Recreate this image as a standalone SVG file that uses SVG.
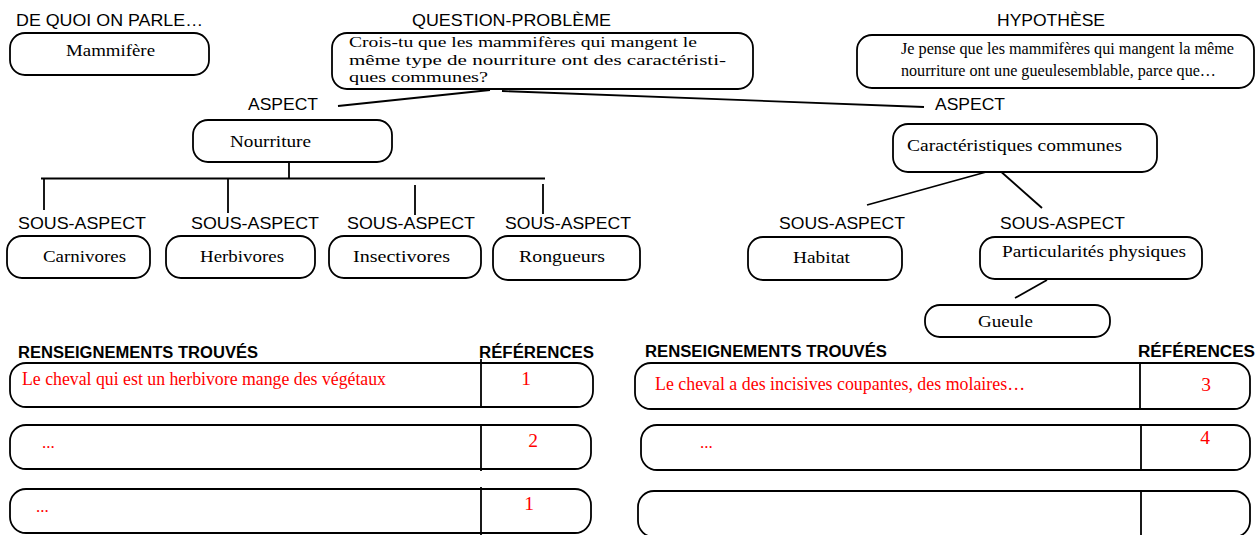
<svg xmlns="http://www.w3.org/2000/svg" width="1260" height="535" viewBox="0 0 1260 535">
<style>
.box{fill:#fff;stroke:#000;stroke-width:1.8}
.ln{stroke:#000;stroke-width:1.8;fill:none}
.lbl{font-family:"Liberation Sans",Arial,sans-serif;font-size:16.5px;fill:#000}
.hdr{font-family:"Liberation Sans",Arial,sans-serif;font-size:16px;font-weight:bold;fill:#000}
.sv{font-family:"Liberation Serif","Times New Roman",serif;font-size:17.5px;fill:#000}
.q{font-family:"Liberation Serif","Times New Roman",serif;font-size:15px;fill:#000}
.red{font-family:"Liberation Serif","Times New Roman",serif;font-size:19.5px;fill:#f00}
</style>
<rect width="1260" height="535" fill="#fff"/>

<g id="labels">
<text class="lbl" x="16" y="26" textLength="187" lengthAdjust="spacingAndGlyphs">DE QUOI ON PARLE…</text>
<text class="lbl" x="412" y="26" textLength="199" lengthAdjust="spacingAndGlyphs">QUESTION-PROBLÈME</text>
<text class="lbl" x="997" y="26" textLength="108" lengthAdjust="spacingAndGlyphs">HYPOTHÈSE</text>
<text class="lbl" x="248" y="110" textLength="70" lengthAdjust="spacingAndGlyphs">ASPECT</text>
<text class="lbl" x="935" y="110" textLength="70" lengthAdjust="spacingAndGlyphs">ASPECT</text>
<text class="lbl" x="18" y="229" textLength="128" lengthAdjust="spacingAndGlyphs">SOUS-ASPECT</text>
<text class="lbl" x="191" y="229" textLength="128" lengthAdjust="spacingAndGlyphs">SOUS-ASPECT</text>
<text class="lbl" x="347" y="229" textLength="128" lengthAdjust="spacingAndGlyphs">SOUS-ASPECT</text>
<text class="lbl" x="505" y="229" textLength="126" lengthAdjust="spacingAndGlyphs">SOUS-ASPECT</text>
<text class="lbl" x="779" y="229" textLength="126" lengthAdjust="spacingAndGlyphs">SOUS-ASPECT</text>
<text class="lbl" x="1000" y="229" textLength="125" lengthAdjust="spacingAndGlyphs">SOUS-ASPECT</text>
<text class="hdr" x="18" y="358" textLength="240" lengthAdjust="spacingAndGlyphs">RENSEIGNEMENTS TROUVÉS</text>
<text class="hdr" x="479" y="358" textLength="115" lengthAdjust="spacingAndGlyphs">RÉFÉRENCES</text>
<text class="hdr" x="645" y="357" textLength="242" lengthAdjust="spacingAndGlyphs">RENSEIGNEMENTS TROUVÉS</text>
<text class="hdr" x="1138" y="357" textLength="117" lengthAdjust="spacingAndGlyphs">RÉFÉRENCES</text>
</g>

<g id="connectors">
<line class="ln" x1="338" y1="106" x2="490" y2="90"/>
<line class="ln" x1="502" y1="91" x2="924" y2="107"/>
<line class="ln" x1="289" y1="162" x2="289" y2="178"/>
<line class="ln" x1="41" y1="178.5" x2="545" y2="178.5" style="stroke-width:2.2"/>
<line class="ln" x1="44" y1="179" x2="44" y2="210"/>
<line class="ln" x1="228" y1="179" x2="228" y2="213"/>
<line class="ln" x1="415" y1="185" x2="415" y2="215"/>
<line class="ln" x1="543" y1="184" x2="543" y2="214"/>
<line class="ln" x1="997" y1="169" x2="867" y2="205"/>
<line class="ln" x1="998" y1="169" x2="1042" y2="208"/>
<line class="ln" x1="1047" y1="280" x2="1015" y2="298"/>
</g>

<g id="mammifere">
<rect class="box" x="10" y="33" width="199" height="42" rx="15"/>
<text class="sv" x="66" y="56" textLength="89" lengthAdjust="spacingAndGlyphs">Mammifère</text>
</g>

<g id="question">
<rect class="box" x="332" y="33" width="421" height="56" rx="15"/>
<text class="q" x="349" y="47" textLength="348" lengthAdjust="spacingAndGlyphs">Crois-tu que les mammifères qui mangent le</text>
<text class="q" x="349" y="64.5" textLength="377" lengthAdjust="spacingAndGlyphs">même  type de nourriture ont des caractéristi-</text>
<text class="q" x="349" y="82" textLength="139" lengthAdjust="spacingAndGlyphs">ques  communes?</text>
</g>

<g id="hypothese">
<rect class="box" x="857" y="35" width="397" height="53" rx="15"/>
<text class="sv" x="901" y="54" style="font-size:16.5px" textLength="333" lengthAdjust="spacingAndGlyphs">Je pense que les mammifères qui mangent la même</text>
<text class="sv" x="901" y="76" style="font-size:16.5px" textLength="315" lengthAdjust="spacingAndGlyphs">nourriture ont une gueulesemblable,  parce que…</text>
</g>

<g id="nourriture">
<rect class="box" x="193" y="120" width="199" height="42" rx="15"/>
<text class="sv" x="230" y="147" textLength="81" lengthAdjust="spacingAndGlyphs">Nourriture</text>
</g>

<g id="caracteristiques">
<rect class="box" x="893" y="124" width="264" height="48" rx="15"/>
<text class="sv" x="907" y="151" textLength="215" lengthAdjust="spacingAndGlyphs">Caractéristiques  communes</text>
</g>

<g id="carnivores">
<rect class="box" x="7" y="236" width="143" height="42" rx="15"/>
<text class="sv" x="43" y="262" textLength="83" lengthAdjust="spacingAndGlyphs">Carnivores</text>
</g>

<g id="herbivores">
<rect class="box" x="166" y="236" width="149" height="42" rx="15"/>
<text class="sv" x="200" y="262" textLength="84" lengthAdjust="spacingAndGlyphs">Herbivores</text>
</g>

<g id="insectivores">
<rect class="box" x="329" y="236" width="152" height="42" rx="15"/>
<text class="sv" x="353" y="262" textLength="97" lengthAdjust="spacingAndGlyphs">Insectivores</text>
</g>

<g id="rongueurs">
<rect class="box" x="493" y="236" width="147" height="44" rx="15"/>
<text class="sv" x="519" y="262" textLength="86" lengthAdjust="spacingAndGlyphs">Rongueurs</text>
</g>

<g id="habitat">
<rect class="box" x="748" y="237" width="154" height="43" rx="15"/>
<text class="sv" x="793" y="263" textLength="57" lengthAdjust="spacingAndGlyphs">Habitat</text>
</g>

<g id="particularites">
<rect class="box" x="980" y="237" width="222" height="42" rx="15"/>
<text class="sv" x="1002" y="257" textLength="184" lengthAdjust="spacingAndGlyphs">Particularités  physiques</text>
</g>

<g id="gueule">
<rect class="box" x="925" y="305" width="185" height="32" rx="15"/>
<text class="sv" x="978" y="327" textLength="55" lengthAdjust="spacingAndGlyphs">Gueule</text>
</g>

<g id="row-left-1">
<rect class="box" x="10" y="363" width="583" height="44" rx="16"/>
<line class="ln" x1="481" y1="359" x2="481" y2="407"/>
<text class="red" x="22" y="385" textLength="364" lengthAdjust="spacingAndGlyphs">Le cheval qui est un herbivore mange des végétaux</text>
<text class="red" x="526" y="385" text-anchor="middle">1</text>
</g>

<g id="row-left-2">
<rect class="box" x="10" y="425" width="581" height="44" rx="16"/>
<line class="ln" x1="481" y1="425" x2="481" y2="471"/>
<text class="red" x="42" y="448" style="font-size:17px">...</text>
<text class="red" x="533" y="447" text-anchor="middle">2</text>
</g>

<g id="row-left-3">
<rect class="box" x="10" y="489" width="581" height="44" rx="16"/>
<line class="ln" x1="481" y1="487" x2="481" y2="535"/>
<text class="red" x="36" y="512" style="font-size:17px">...</text>
<text class="red" x="529" y="510" text-anchor="middle">1</text>
</g>

<g id="row-right-1">
<rect class="box" x="635" y="363" width="615" height="46" rx="16"/>
<line class="ln" x1="1140" y1="363" x2="1140" y2="409"/>
<text class="red" x="655" y="390" textLength="370" lengthAdjust="spacingAndGlyphs">Le cheval a des incisives coupantes, des molaires…</text>
<text class="red" x="1206" y="391" text-anchor="middle">3</text>
</g>

<g id="row-right-2">
<rect class="box" x="641" y="425" width="609" height="45" rx="16"/>
<line class="ln" x1="1141" y1="425" x2="1141" y2="470"/>
<text class="red" x="700" y="448" style="font-size:17px">...</text>
<text class="red" x="1205" y="444" text-anchor="middle">4</text>
</g>

<g id="row-right-3">
<rect class="box" x="638" y="491" width="612" height="46" rx="16"/>
<line class="ln" x1="1141" y1="490" x2="1141" y2="535"/>
</g>
</svg>
